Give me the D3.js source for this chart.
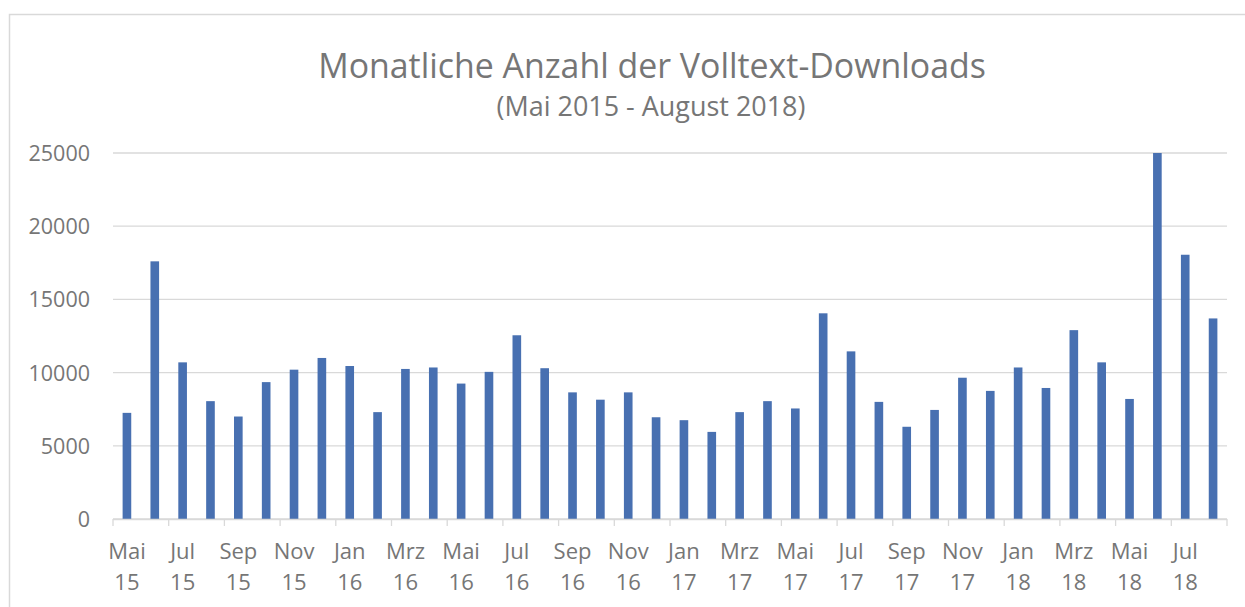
<!DOCTYPE html>
<html lang="de">
<head>
    <meta charset="UTF-8">
    <title>Monatliche Anzahl der Volltext-Downloads</title>
    <script src="https://d3js.org/d3.v7.min.js"></script>
    <style>
        body {
            margin: 0;
            background: #fff;
            font-family: "Open Sans", sans-serif;
        }
        .label-text {
            fill: #767676;
        }
        .axis path, .axis line {
            stroke: none;
        }
    </style>
</head>
<body>
    <div id="chart"></div>
    <script>
        // month names (German abbreviations) and years, Mai 2015 - Aug 2018
        const months = ['Mai', 'Jun', 'Jul', 'Aug', 'Sep', 'Okt', 'Nov', 'Dez',
            'Jan', 'Feb', 'Mrz', 'Apr', 'Mai', 'Jun', 'Jul', 'Aug', 'Sep', 'Okt', 'Nov', 'Dez',
            'Jan', 'Feb', 'Mrz', 'Apr', 'Mai', 'Jun', 'Jul', 'Aug', 'Sep', 'Okt', 'Nov', 'Dez',
            'Jan', 'Feb', 'Mrz', 'Apr', 'Mai', 'Jun', 'Jul', 'Aug'];
        const years = ['15', '15', '15', '15', '15', '15', '15', '15',
            '16', '16', '16', '16', '16', '16', '16', '16', '16', '16', '16', '16',
            '17', '17', '17', '17', '17', '17', '17', '17', '17', '17', '17', '17',
            '18', '18', '18', '18', '18', '18', '18', '18'];

        // downloads per month
        const downloads = [7250, 17600, 10700, 8050, 7000, 9350, 10200, 11000,
            10450, 7300, 10250, 10350, 9250, 10050, 12550, 10300, 8650, 8150, 8650, 6950,
            6750, 5950, 7300, 8050, 7550, 14050, 11450, 8000, 6300, 7450, 9650, 8750,
            10350, 8950, 12900, 10700, 8200, 25000, 18050, 13700];

        const yTicks = [0, 5000, 10000, 15000, 20000, 25000];

        const width = 1245, height = 607;
        const plotLeft = 113, plotRight = 1227, plotTop = 153, plotBottom = 519;

        const svg = d3.select('#chart').append('svg')
            .attr('width', width)
            .attr('height', height);

        // chart frame
        svg.append('rect')
            .attr('x', 9.5)
            .attr('y', 14.5)
            .attr('width', 1300)
            .attr('height', 700)
            .attr('fill', 'none')
            .attr('stroke', '#d9d9d9')
            .attr('stroke-width', 1.5);

        const x = d3.scaleBand()
            .domain(d3.range(downloads.length))
            .range([plotLeft, plotRight])
            .paddingInner(0.69)
            .paddingOuter(0.345);

        const y = d3.scaleLinear()
            .domain([0, 25000])
            .range([plotBottom, plotTop]);

        // gridlines
        svg.append('g')
            .selectAll('line')
            .data(yTicks)
            .enter()
            .append('line')
            .attr('x1', plotLeft)
            .attr('x2', plotRight)
            .attr('y1', d => y(d))
            .attr('y2', d => y(d))
            .attr('stroke', '#d9d9d9')
            .attr('stroke-width', 1.3);

        // y axis labels
        const yAxis = svg.append('g')
            .attr('class', 'axis')
            .attr('transform', `translate(${plotLeft - 23}, 0)`)
            .call(d3.axisLeft(y).tickValues(yTicks).tickFormat(d3.format('d')).tickSize(0).tickPadding(0));
        yAxis.selectAll('text')
            .attr('class', 'label-text')
            .style('font-family', '"Open Sans", sans-serif')
            .style('font-size', '21.5px')
            .attr('dy', '0.35em');

        // bars
        svg.append('g')
            .selectAll('rect')
            .data(downloads)
            .enter()
            .append('rect')
            .attr('x', (d, i) => x(i))
            .attr('y', d => y(d))
            .attr('width', x.bandwidth())
            .attr('height', d => y(0) - y(d))
            .attr('fill', '#4870b1');

        // x axis line and tick marks at every second category boundary
        const step = x.step();
        const boundaries = d3.range(0, downloads.length + 1, 2).map(i => plotLeft + i * step);
        svg.append('line')
            .attr('x1', plotLeft)
            .attr('x2', plotRight)
            .attr('y1', plotBottom + 0.5)
            .attr('y2', plotBottom + 0.5)
            .attr('stroke', '#d9d9d9')
            .attr('stroke-width', 1.3);
        svg.append('g')
            .selectAll('line')
            .data(boundaries)
            .enter()
            .append('line')
            .attr('x1', d => d)
            .attr('x2', d => d)
            .attr('y1', plotBottom)
            .attr('y2', plotBottom + 7)
            .attr('stroke', '#d9d9d9')
            .attr('stroke-width', 1.3);

        // x labels, two lines, every second month
        const labelIdx = d3.range(0, downloads.length, 2);
        const xLabels = svg.append('g')
            .selectAll('text')
            .data(labelIdx)
            .enter()
            .append('text')
            .attr('class', 'label-text')
            .attr('text-anchor', 'middle')
            .style('font-size', '22px')
            .attr('transform', i => `translate(${x(i) + x.bandwidth() / 2}, 559)`);
        xLabels.append('tspan')
            .attr('x', 0)
            .text(i => months[i]);
        xLabels.append('tspan')
            .attr('x', 0)
            .attr('dy', 30.5)
            .text(i => years[i]);

        // titles
        function fitText(sel, targetWidth) {
            const node = sel.node();
            const size = parseFloat(sel.style('font-size'));
            sel.style('font-size', (size * targetWidth / node.getComputedTextLength()) + 'px');
        }

        const title = svg.append('text')
            .attr('class', 'label-text')
            .attr('x', 652)
            .attr('y', 78)
            .attr('text-anchor', 'middle')
            .style('font-size', '32px')
            .text('Monatliche Anzahl der Volltext-Downloads');
        fitText(title, 668);

        const subtitle = svg.append('text')
            .attr('class', 'label-text')
            .attr('x', 651)
            .attr('y', 116)
            .attr('text-anchor', 'middle')
            .style('font-size', '22px')
            .text('(Mai 2015 - August 2018)');
        fitText(subtitle, 309);
    </script>
</body>
</html>
